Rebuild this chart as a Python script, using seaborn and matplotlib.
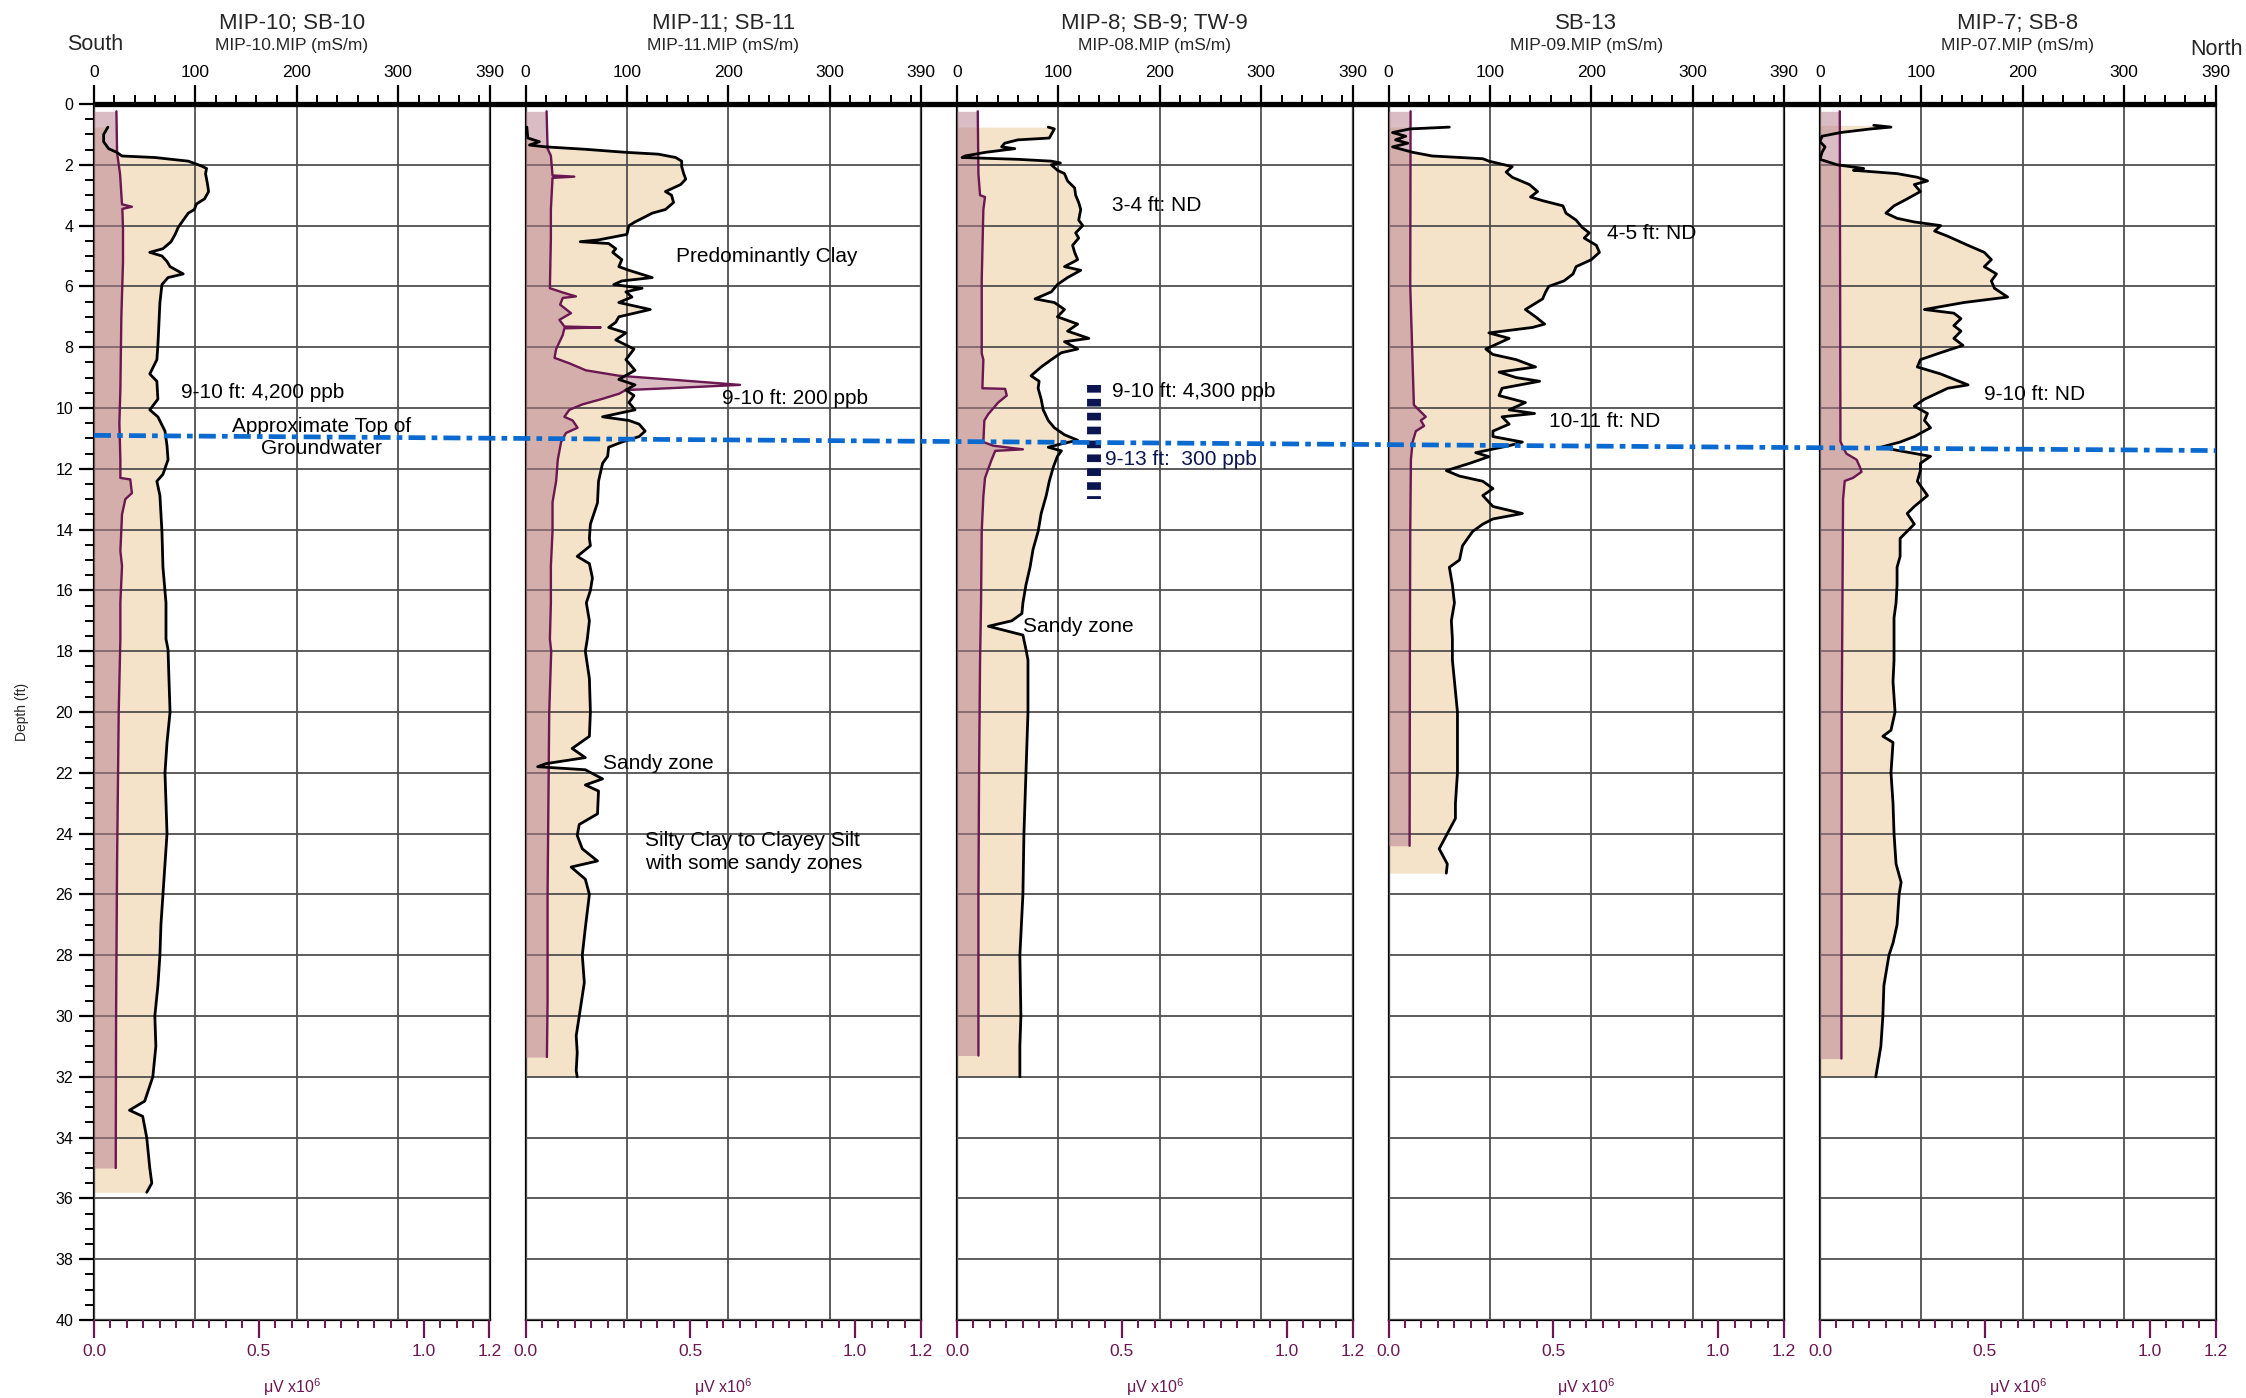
import matplotlib
matplotlib.use("Agg")
import numpy as np
import pandas as pd
import matplotlib.pyplot as plt
import seaborn as sns
from matplotlib.lines import Line2D
from matplotlib.ticker import FixedLocator, MultipleLocator, FormatStrFormatter

# ---------------- data (depth ft, value) ----------------
well_titles = ["MIP-10; SB-10", "MIP-11; SB-11", "MIP-8; SB-9; TW-9", "SB-13", "MIP-7; SB-8"]
well_files = ["MIP-10.MIP (mS/m)", "MIP-11.MIP (mS/m)", "MIP-08.MIP (mS/m)",
              "MIP-09.MIP (mS/m)", "MIP-07.MIP (mS/m)"]

# electrical conductivity, mS/m (black trace)
ec_mip10 = [(0.76, 13.7), (1.0, 9.5), (1.24, 9.5), (1.47, 14.4), (1.59, 22.5), (1.71, 27.5),
            (1.76, 60), (1.88, 93), (2.04, 106), (2.12, 111), (2.29, 110), (2.65, 112),
            (2.88, 113), (3.12, 109), (3.29, 101), (3.47, 99), (3.59, 93), (3.82, 88),
            (4.06, 83), (4.29, 80), (4.53, 76), (4.76, 68), (4.88, 55), (5.0, 67), (5.18, 72),
            (5.35, 75), (5.59, 88), (5.71, 73), (5.94, 67), (6.53, 65), (7.24, 64), (7.94, 63),
            (8.41, 62), (8.88, 55), (9.12, 62), (9.71, 63), (10.06, 55), (10.29, 63),
            (10.76, 70), (11.24, 72), (11.7, 73), (12.18, 68), (12.41, 62), (12.88, 65),
            (14.06, 67), (15.24, 68), (16.41, 71), (17.6, 71), (17.94, 73), (19, 74), (20, 75),
            (21, 72), (22, 70), (23, 71), (24, 72), (25, 70), (26, 68), (27, 66), (28, 65),
            (29, 63), (30, 60), (31, 61), (32, 58), (32.8, 50), (33.1, 35), (33.3, 48),
            (34, 52), (35, 55), (35.5, 57), (35.8, 52)]
ec_mip11 = [(0.76, 1.3), (1.12, 2.3), (1.24, 13.7), (1.35, 3.9), (1.41, 20), (1.49, 59),
            (1.59, 99), (1.65, 131), (1.76, 148), (1.88, 154), (2.06, 154), (2.29, 156),
            (2.47, 158), (2.65, 153), (2.88, 138), (3.0, 144), (3.24, 146), (3.47, 138),
            (3.59, 125), (3.71, 118), (3.88, 108), (4.0, 102), (4.29, 100), (4.47, 72),
            (4.53, 54), (4.59, 82), (4.76, 89), (4.88, 86), (5.12, 95), (5.35, 92), (5.47, 102),
            (5.71, 125), (5.82, 95), (5.94, 87), (6.06, 115), (6.18, 99), (6.35, 105),
            (6.53, 92), (6.76, 123), (7.0, 92), (7.18, 89), (7.35, 82), (7.53, 99), (7.76, 89),
            (8.06, 107), (8.41, 99), (8.76, 108), (9.06, 92), (9.24, 108), (9.41, 99),
            (9.59, 107), (9.82, 102), (10.06, 108), (10.29, 76), (10.41, 102), (10.53, 112),
            (10.76, 118), (10.94, 112), (11.12, 95), (11.29, 82), (11.59, 81), (11.82, 76),
            (12.41, 72), (13.12, 71), (13.82, 64), (14.29, 63), (14.53, 64), (14.88, 51),
            (15.12, 63), (15.59, 66), (16.0, 64), (16.41, 60), (17.0, 63), (17.59, 61),
            (18.0, 59), (18.9, 63), (20.0, 64), (20.8, 63), (21.2, 46), (21.5, 59), (21.7, 20),
            (21.8, 12), (21.9, 59), (22.2, 76), (22.4, 59), (22.6, 72), (23.35, 71), (23.7, 53),
            (24.06, 51), (24.5, 56), (24.9, 71), (25.1, 45), (25.5, 59), (26.0, 63), (27.1, 59),
            (28.0, 56), (28.9, 58), (30.0, 53), (30.65, 50), (31.2, 51), (31.8, 50), (32.0, 51)]
ec_mip08 = [(0.76, 90), (0.82, 96), (0.94, 94), (1.12, 91), (1.18, 60), (1.29, 47), (1.41, 44),
            (1.47, 57), (1.59, 28), (1.71, 8), (1.76, 5), (1.82, 60), (1.88, 93), (1.94, 102),
            (2.0, 93), (2.18, 99), (2.29, 106), (2.53, 109), (2.76, 116), (3.0, 117),
            (3.24, 120), (3.47, 122), (3.82, 120), (4.0, 124), (4.24, 117), (4.41, 120),
            (4.65, 114), (4.88, 116), (5.12, 119), (5.35, 106), (5.47, 122), (5.71, 109),
            (5.94, 99), (6.18, 93), (6.41, 77), (6.53, 96), (6.76, 106), (7.0, 99), (7.24, 119),
            (7.47, 109), (7.71, 130), (7.82, 106), (8.06, 119), (8.18, 103), (8.41, 93),
            (8.65, 83), (8.94, 73), (9.12, 81), (9.35, 80), (9.71, 83), (10.06, 85),
            (10.41, 90), (10.65, 96), (10.88, 106), (11.06, 119), (11.18, 103), (11.29, 90),
            (11.41, 103), (11.59, 99), (11.94, 95), (12.41, 91), (12.88, 88), (13.47, 83),
            (14.06, 80), (14.65, 75), (15.24, 72), (15.82, 68), (16.41, 65), (16.76, 64),
            (17.0, 54), (17.18, 31), (17.29, 44), (17.47, 65), (17.94, 68), (18.29, 70),
            (20, 70), (22, 68), (24, 66), (26, 65), (28, 62), (30, 63), (31, 62), (32, 62)]
ec_mip09 = [(0.76, 60), (0.82, 21), (0.94, 4), (1.06, 17), (1.18, 7), (1.29, 19), (1.41, 4),
            (1.59, 24), (1.71, 43), (1.8, 93), (1.88, 99), (2.06, 122), (2.24, 116),
            (2.41, 122), (2.65, 139), (2.88, 147), (3.06, 140), (3.18, 152), (3.35, 172),
            (3.59, 175), (3.82, 185), (4.06, 191), (4.24, 198), (4.41, 193), (4.65, 205),
            (4.88, 208), (5.12, 200), (5.35, 185), (5.59, 182), (5.82, 173), (6.0, 158),
            (6.18, 155), (6.41, 152), (6.76, 135), (7.0, 145), (7.24, 154), (7.35, 142),
            (7.53, 99), (7.71, 119), (8.06, 96), (8.24, 103), (8.41, 126), (8.65, 145),
            (8.82, 109), (9.0, 126), (9.12, 149), (9.35, 112), (9.59, 109), (9.82, 135),
            (10.06, 119), (10.18, 144), (10.29, 112), (10.53, 119), (10.76, 103), (10.94, 103),
            (11.12, 132), (11.24, 119), (11.47, 86), (11.6, 99), (11.82, 80), (12.06, 57),
            (12.24, 70), (12.41, 93), (12.65, 103), (12.88, 93), (13.24, 103), (13.47, 132),
            (13.65, 103), (13.82, 93), (14.06, 83), (14.53, 73), (15.0, 70), (15.24, 60),
            (15.82, 63), (16.41, 65), (17.0, 62), (17.59, 63), (18.29, 63), (20, 68), (22, 68),
            (23, 66), (23.5, 66), (24, 58), (24.5, 50), (25, 58), (25.3, 57)]
ec_mip07 = [(0.7, 53), (0.76, 70), (0.82, 50), (0.94, 20), (1.06, 2), (1.24, 0), (1.41, 5),
            (1.59, 2), (1.82, 0), (2.0, 17), (2.12, 43), (2.18, 33), (2.29, 76), (2.41, 96),
            (2.53, 106), (2.65, 93), (2.88, 99), (3.12, 86), (3.35, 73), (3.59, 65), (3.76, 76),
            (3.88, 93), (4.0, 119), (4.18, 113), (4.35, 126), (4.65, 146), (4.88, 162),
            (5.12, 169), (5.35, 162), (5.59, 174), (5.82, 169), (6.06, 172), (6.35, 185),
            (6.53, 142), (6.76, 103), (6.88, 132), (7.06, 139), (7.29, 132), (7.47, 139),
            (7.71, 132), (7.94, 141), (8.18, 119), (8.41, 99), (8.65, 96), (8.88, 119),
            (9.24, 146), (9.35, 126), (9.71, 103), (9.94, 93), (10.18, 106), (10.41, 103),
            (10.65, 109), (10.94, 93), (11.12, 79), (11.29, 60), (11.41, 79), (11.59, 109),
            (11.82, 99), (12.06, 99), (12.41, 96), (12.88, 106), (13.24, 93), (13.47, 86),
            (13.82, 93), (14.29, 79), (14.88, 79), (15.24, 76), (15.82, 76), (16.41, 75),
            (16.9, 73), (17.59, 73), (18.3, 73), (19, 72), (20, 74), (20.6, 70), (20.8, 62),
            (21, 72), (22, 70), (23, 72), (24, 73), (25, 75), (25.6, 80), (26, 78), (27, 76),
            (27.6, 72), (28, 68), (29, 63), (30, 62), (31, 60), (32, 55)]

# detector signal, uV x 10^6 (purple trace)
mip_mip10 = [(0.24, 0.068), (1.6, 0.07), (2.3, 0.079), (3.3, 0.085), (3.38, 0.115), (3.45, 0.086),
             (4.1, 0.088), (5.2, 0.088), (7.0, 0.083), (9.4, 0.08), (10.5, 0.077), (11.7, 0.08),
             (12.3, 0.08), (12.35, 0.11), (12.8, 0.115), (13.0, 0.095), (13.5, 0.085),
             (14.0, 0.083), (14.7, 0.08), (15.2, 0.085), (16.4, 0.08), (17.6, 0.08), (20, 0.075),
             (25, 0.07), (30, 0.067), (35, 0.066)]
mip_mip11 = [(0.24, 0.064), (1.47, 0.067), (1.7, 0.077), (2.35, 0.082), (2.39, 0.148),
             (2.43, 0.082), (3.47, 0.077), (4.4, 0.077), (6.06, 0.074), (6.2, 0.113),
             (6.33, 0.153), (6.38, 0.113), (6.6, 0.105), (6.88, 0.138), (7.1, 0.103),
             (7.32, 0.118), (7.35, 0.228), (7.38, 0.118), (7.6, 0.113), (8.06, 0.093),
             (8.35, 0.088), (8.53, 0.133), (8.76, 0.183), (8.94, 0.284), (9.06, 0.435),
             (9.24, 0.651), (9.35, 0.435), (9.41, 0.304), (9.53, 0.284), (9.7, 0.233),
             (9.88, 0.173), (10.06, 0.133), (10.29, 0.118), (10.41, 0.143), (10.65, 0.158),
             (10.82, 0.123), (11.12, 0.108), (11.7, 0.098), (12.4, 0.093), (13.1, 0.082),
             (14.06, 0.082), (15.2, 0.077), (16.4, 0.077), (17.6, 0.074), (18.0, 0.078),
             (20.0, 0.072), (22.4, 0.07), (26.0, 0.067), (29.5, 0.067), (31.35, 0.065)]
mip_mip08 = [(0.24, 0.063), (2.3, 0.065), (3.0, 0.07), (3.06, 0.085), (3.47, 0.08), (5.8, 0.075),
             (8.2, 0.075), (8.41, 0.08), (9.35, 0.077), (9.37, 0.146), (9.59, 0.151),
             (9.82, 0.125), (10.2, 0.095), (10.41, 0.083), (11.12, 0.08), (11.24, 0.11),
             (11.36, 0.2), (11.41, 0.116), (11.7, 0.105), (12.3, 0.085), (12.9, 0.08),
             (14.06, 0.075), (16.4, 0.073), (18.3, 0.07), (22, 0.067), (26, 0.065), (31.3, 0.065)]
mip_mip09 = [(0.24, 0.067), (6.0, 0.066), (9.9, 0.077), (10.18, 0.103), (10.29, 0.113),
             (10.41, 0.098), (10.59, 0.108), (10.76, 0.083), (11.12, 0.073), (11.7, 0.068),
             (14, 0.066), (18, 0.065), (24.4, 0.064)]
mip_mip07 = [(0.24, 0.06), (11.1, 0.062), (11.29, 0.07), (11.5, 0.08), (11.7, 0.111),
             (11.94, 0.121), (12.1, 0.126), (12.3, 0.1), (12.4, 0.075), (13, 0.07), (20, 0.066),
             (31.4, 0.065)]

ec_profiles = [ec_mip10, ec_mip11, ec_mip08, ec_mip09, ec_mip07]
mip_profiles = [mip_mip10, mip_mip11, mip_mip08, mip_mip09, mip_mip07]

# groundwater depth at south and north ends (ft)
gw_depth_south, gw_depth_north = 10.9, 11.4
# soil sample interval bar in MIP-8 panel: (x mS/m, top ft, bottom ft)
sample_bar_mip08 = (135, 9.25, 13.0)

# annotations: panel, text, x (mS/m), depth, ha, colour
notes = [
    (0, "9-10 ft: 4,200 ppb", 86, 9.5, "left", "black"),
    (0, "Approximate Top of\nGroundwater", 224, 10.97, "center", "black"),
    (1, "Predominantly Clay", 148, 5.0, "left", "black"),
    (1, "9-10 ft: 200 ppb", 194, 9.7, "left", "black"),
    (1, "Sandy zone", 76, 21.7, "left", "black"),
    (1, "Silty Clay to Clayey Silt\nwith some sandy zones", 118, 24.6, "left", "black"),
    (2, "3-4 ft: ND", 153, 3.35, "left", "black"),
    (2, "9-10 ft: 4,300 ppb", 153, 9.45, "left", "black"),
    (2, "9-13 ft:  300 ppb", 146, 11.7, "left", "#0B1650"),
    (2, "Sandy zone", 65, 17.2, "left", "black"),
    (3, "4-5 ft: ND", 215, 4.25, "left", "black"),
    (3, "10-11 ft: ND", 158, 10.45, "left", "black"),
    (4, "9-10 ft: ND", 162, 9.55, "left", "black"),
]

ec_ticks = [0, 100, 200, 300, 390]
uv_ticks = [0.0, 0.5, 1.0, 1.2]

# ---------------- style ----------------
sns.set_style("white")
plt.rcParams["font.family"] = ["Liberation Sans", "DejaVu Sans"]
plt.rcParams["mathtext.fontset"] = "custom"
plt.rcParams["mathtext.rm"] = "Liberation Sans"

PURPLE = "#6A1752"
TAN = "#F4E3C9"
ROSE = "#B67B8D"
GRID = "#4f4f4f"

W, H = 2246, 1398
fig = plt.figure(figsize=(W / 100, H / 100), dpi=100)
fig.patch.set_facecolor("white")

P_LEFT0, P_STEP, P_W = 94, 431.5, 395.5
P_TOP, P_BOT = 104, 1320
ax_h = (P_BOT - P_TOP) / H

main_axes = []
for k in range(5):
    left = (P_LEFT0 + k * P_STEP) / W
    ax = fig.add_axes([left, (H - P_BOT) / H, P_W / W, ax_h])
    axp = ax.twiny()
    axl = ax.twiny()

    ec_df = pd.DataFrame(ec_profiles[k], columns=["depth", "ec"])
    mip_df = pd.DataFrame(mip_profiles[k], columns=["depth", "uv"])

    # fills
    ax.fill_betweenx(ec_df["depth"], 0, ec_df["ec"], color=TAN, lw=0, zorder=1)
    axp.fill_betweenx(mip_df["depth"], 0, mip_df["uv"], color=ROSE, alpha=0.5, lw=0, zorder=1)

    # traces
    sns.lineplot(data=mip_df, x="uv", y="depth", orient="y", sort=False, estimator=None,
                 color=PURPLE, linewidth=1.7, ax=axp, zorder=3)
    sns.lineplot(data=ec_df, x="ec", y="depth", orient="y", sort=False, estimator=None,
                 color="black", linewidth=2.0, ax=axl, zorder=4)

    # limits
    ax.set_xlim(0, 390)
    axl.set_xlim(0, 390)
    axp.set_xlim(0, 1.2)
    ax.set_ylim(40, 0)

    # main (top) axis: EC
    ax.xaxis.tick_top()
    ax.xaxis.set_label_position("top")
    ax.xaxis.set_major_locator(FixedLocator(ec_ticks))
    ax.xaxis.set_minor_locator(MultipleLocator(20))
    ax.yaxis.set_major_locator(MultipleLocator(2))
    ax.yaxis.set_minor_locator(MultipleLocator(0.5))
    ax.tick_params(axis="x", which="major", top=True, bottom=False, labeltop=True,
                   labelbottom=False, direction="out", length=14, width=1.6, pad=3,
                   labelsize=12.5, colors="black")
    ax.tick_params(axis="x", which="minor", top=True, bottom=False, direction="out",
                   length=6.5, width=1.4, colors="black")
    if k == 0:
        ax.tick_params(axis="y", which="major", left=True, right=False, labelleft=True,
                       direction="out", length=11, width=1.6, pad=4, labelsize=11.5,
                       colors="black")
        ax.tick_params(axis="y", which="minor", left=True, right=False, direction="out",
                       length=6.5, width=1.4, colors="black")
        ax.set_ylabel("Depth (ft)", fontsize=10)
        ax.yaxis.set_label_coords(-0.164, 0.5)
    else:
        ax.tick_params(axis="y", which="both", left=False, right=False, labelleft=False)
        ax.set_ylabel("")
    ax.set_xlabel("")
    ax.set_axisbelow(False)
    ax.grid(True, which="major", axis="both", color=GRID, lw=1.3)
    for side in ["left", "right", "bottom"]:
        ax.spines[side].set_color("black")
        ax.spines[side].set_linewidth(1.6)
    ax.spines["top"].set_linewidth(1.0)

    # bottom axis: detector
    axp.xaxis.set_ticks_position("bottom")
    axp.xaxis.set_label_position("bottom")
    axp.xaxis.set_major_locator(FixedLocator(uv_ticks))
    axp.xaxis.set_minor_locator(MultipleLocator(0.05))
    axp.xaxis.set_major_formatter(FormatStrFormatter("%.1f"))
    axp.tick_params(axis="x", which="major", bottom=True, top=False, labelbottom=True,
                    labeltop=False, direction="out", length=13, width=1.6, pad=4,
                    labelsize=12.5, color=PURPLE, labelcolor=PURPLE)
    axp.tick_params(axis="x", which="minor", bottom=True, top=False, direction="out",
                    length=6, width=1.4, color=PURPLE)
    for s in axp.spines.values():
        s.set_visible(False)
    axp.set_xlabel("μV x10$^{6}$", color=PURPLE, fontsize=11.5)
    axp.xaxis.set_label_coords(0.5, -0.046)
    axp.set_ylabel("")
    axl.axis("off")

    # titles
    ax.text(0.5, 1.0665, well_titles[k], transform=ax.transAxes, ha="center", va="center",
            fontsize=16)
    ax.text(0.5, 1.0485, well_files[k], transform=ax.transAxes, ha="center", va="center",
            fontsize=12.5)

    main_axes.append((ax, axl))

# annotations
for k, txt, x, d, ha, col in notes:
    main_axes[k][0].text(x, d, txt, ha=ha, va="center", fontsize=15, color=col,
                         linespacing=1.25, zorder=6)

# sample interval bar (MIP-8)
bx, btop, bbot = sample_bar_mip08
main_axes[2][1].plot([bx, bx], [btop, bbot], color="#0B1650", lw=10,
                     linestyle=(0, (0.55, 0.45)), dash_capstyle="butt", zorder=5)

# South / North labels
main_axes[0][0].text(-0.068, 1.0493, "South", transform=main_axes[0][0].transAxes,
                     ha="left", va="center", fontsize=15.5)
main_axes[4][0].text(1.0695, 1.045, "North", transform=main_axes[4][0].transAxes,
                     ha="right", va="center", fontsize=15.5)

# continuous thick line at depth 0 across all panels
inv = fig.transFigure.inverted()
a0, a4 = main_axes[0][0], main_axes[4][0]
p0 = inv.transform(a0.transData.transform((0, 0)))
p1 = inv.transform(a4.transData.transform((390, 0)))
fig.add_artist(Line2D([p0[0], p1[0]], [p0[1], p1[1]], transform=fig.transFigure,
                      color="black", lw=3.8, solid_capstyle="butt", zorder=10))

# approximate top of groundwater across panels
g0 = inv.transform(a0.transData.transform((0, gw_depth_south)))
g1 = inv.transform(a4.transData.transform((390, gw_depth_north)))
fig.add_artist(Line2D([g0[0], g1[0]], [g0[1], g1[1]], transform=fig.transFigure,
                      color="#0A6AD0", lw=3.4, linestyle=(0, (3.6, 1.3, 1.2, 1.3)),
                      dash_capstyle="butt", zorder=11))

fig.savefig("out.png", dpi=100, facecolor="white")
